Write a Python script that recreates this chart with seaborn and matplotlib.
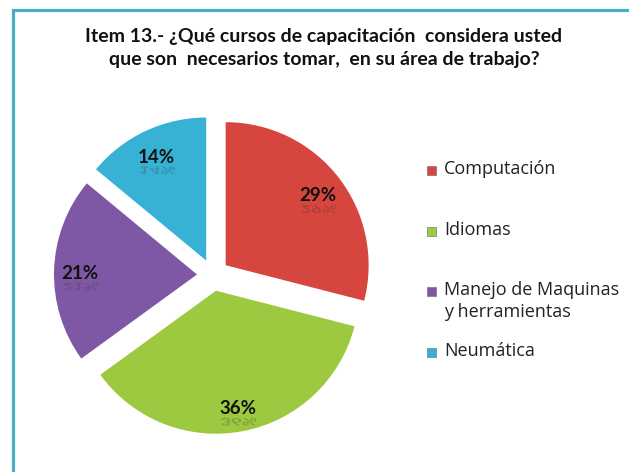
import matplotlib
matplotlib.use("Agg")
import matplotlib.pyplot as plt
from matplotlib.patches import Rectangle, PathPatch
from matplotlib.textpath import TextPath
from matplotlib.font_manager import FontProperties
from matplotlib.transforms import Affine2D, IdentityTransform
import seaborn as sns

# data
cursos = ["Computación", "Idiomas", "Manejo de Maquinas\ny herramientas", "Neumática"]
porcentajes = [29, 36, 21, 14]
colores = ["#D6453E", "#9CC940", "#7E58A4", "#38B2D4"]

titulo = ("Item 13.- ¿Qué cursos de capacitación  considera usted\n"
          "que son  necesarios tomar,  en su área de trabajo?")

sns.set_theme(style="white")
plt.rcParams["font.family"] = ["Lato", "DejaVu Sans"]

W, H = 629, 472
fig = plt.figure(figsize=(W / 100, H / 100), dpi=100)
fig.patch.set_facecolor("white")

# teal frame (only top and left visible, cut by image edge)
fig.patches.append(Rectangle((12.5 / W, -0.2), 1.5, (472 - 9.5) / H + 0.2,
                             transform=fig.transFigure, fill=False,
                             edgecolor="#4BACC6", linewidth=2.3))

fig.text(324 / W, 1 - 48 / H, titulo, ha="center", va="center",
         fontsize=14, fontweight="bold", linespacing=1.45, color="#111111")

# pie
cx, cy, half = 213, 275, 175
ax = fig.add_axes([(cx - half) / W, (H - cy - half) / H, 2 * half / W, 2 * half / H])
wedges, texts, autotexts = ax.pie(
    porcentajes, colors=colores, startangle=90, counterclock=False,
    radius=143 / half, explode=[16 / half] * len(porcentajes),
    autopct="%d%%", pctdistance=0.82,
    wedgeprops=dict(linewidth=0),
    textprops=dict(fontsize=13.5, fontweight="bold", color="#111111"))
ax.set_xlim(-1, 1)
ax.set_ylim(-1, 1)
ax.set_aspect("equal")
ax.axis("off")

# faint mirrored copy under each percentage, like the original's reflection
fig.canvas.draw()
prop = FontProperties(family="Lato", weight="bold")
for t in autotexts:
    x, y = t.get_position()
    t.set_position((x, y - 0.015))
    bb = t.get_window_extent(fig.canvas.get_renderer())
    tp = TextPath((0, 0), t.get_text(), size=13.5 * 100 / 72, prop=prop)
    tw = tp.get_extents().width
    tr = Affine2D().scale(1, -0.55).translate(bb.x0 + (bb.width - tw) / 2, bb.y0 - 1)
    fig.patches.append(PathPatch(tr.transform_path(tp), transform=IdentityTransform(),
                                 facecolor="#333333", edgecolor="none", alpha=0.25))

# legend, drawn by hand so the two-line entry keeps its box on the first line
for i, (nombre, col) in enumerate(zip(cursos, colores)):
    y = 170 + 60.7 * i
    fig.patches.append(Rectangle((427 / W, 1 - (y + 5) / H), 9 / W, 9 / H,
                                 transform=fig.transFigure, facecolor=col,
                                 edgecolor="#666666", linewidth=0.4))
    fig.text(444 / W, 1 - (y - 10) / H, nombre, ha="left", va="top",
             fontsize=13, color="#222222", linespacing=1.25,
             family=["Open Sans", "DejaVu Sans"])

fig.savefig("out.png", dpi=100)
